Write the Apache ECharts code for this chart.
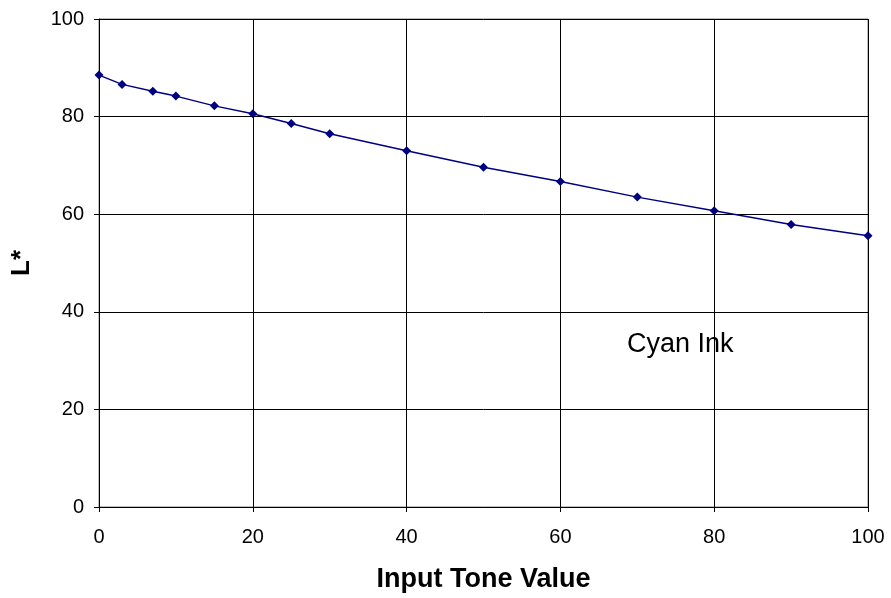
<!DOCTYPE html>
<html><head><meta charset="utf-8">
<script src="https://cdn.jsdelivr.net/npm/echarts@6/dist/echarts.min.js"></script>
<style>html,body{margin:0;padding:0;background:#fff}#c{width:891px;height:598px}</style>
</head><body><div id="c"></div>
<script>
const toneValues = [0, 3, 7, 10, 15, 20, 25, 30, 40, 50, 60, 70, 80, 90, 100];
const lStar = [88.5, 86.6, 85.2, 84.2, 82.2, 80.6, 78.6, 76.5, 73.0, 69.6, 66.7, 63.5, 60.7, 57.9, 55.6];
const seriesLabel = 'Cyan Ink';

const chart = echarts.init(document.getElementById('c'), null, {renderer: 'canvas'});
const font = 'Liberation Sans, Arial, sans-serif';
chart.setOption({
  animation: false,
  backgroundColor: '#fff',
  grid: {left: 99, right: 23, top: 19, bottom: 91, show: true, borderColor: '#808080', borderWidth: 1},
  title: {text: seriesLabel, left: 627, top: 331, padding: 0, textStyle: {fontFamily: font, fontSize: 27, fontWeight: 'normal', color: '#000'}},
  xAxis: {
    type: 'value', min: 0, max: 100, interval: 20,
    name: 'Input Tone Value', nameLocation: 'middle', nameGap: 59,
    nameTextStyle: {fontFamily: font, fontSize: 27, fontWeight: 'bold', color: '#000'},
    axisLine: {show: true, lineStyle: {color: '#000', width: 1}},
    axisTick: {show: true, length: 5, inside: false, lineStyle: {color: '#000'}},
    axisLabel: {fontFamily: font, fontSize: 20, color: '#000', margin: 20},
    splitLine: {show: true, lineStyle: {color: '#000', width: 1}}
  },
  yAxis: {
    type: 'value', min: 0, max: 100, interval: 20,
    name: 'L*', nameLocation: 'middle', nameGap: 64, nameRotate: 90,
    nameTextStyle: {fontFamily: font, fontSize: 26, fontWeight: 'bold', color: '#000'},
    axisLine: {show: true, lineStyle: {color: '#000', width: 1}},
    axisTick: {show: true, length: 5, inside: false, lineStyle: {color: '#000'}},
    axisLabel: {fontFamily: font, fontSize: 20, color: '#000', margin: 15},
    splitLine: {show: true, lineStyle: {color: '#000', width: 1}}
  },
  series: [{
    type: 'line',
    data: toneValues.map((x, i) => [x, lStar[i]]),
    symbol: 'diamond', symbolSize: 9,
    lineStyle: {color: '#000080', width: 1.5},
    itemStyle: {color: '#000080'}
  }]
});
</script></body></html>
